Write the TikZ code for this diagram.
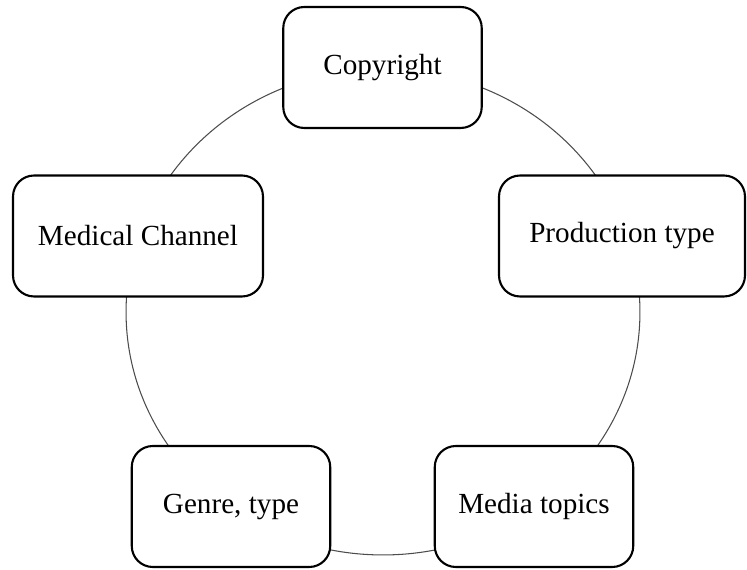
\documentclass[tikz,border=0pt]{standalone}
\usepackage{fontspec}
\setmainfont{Liberation Serif}
\usepackage{tikz}
\usetikzlibrary{positioning}

\begin{document}
\begin{tikzpicture}[x=0.02cm, y=-0.02cm,
    topic/.style={draw, line width=1.2pt, rounded corners=0.42cm, fill=white,
                  minimum height=2.42cm, minimum width=3.97cm, align=center,
                  font=\fontsize{16.6}{20}\selectfont},
    ring/.style={draw=black!70, line width=0.6pt}]
    \useasboundingbox (0,0) rectangle (747,570);
    \coordinate (hub) at (383,312);
    \draw[ring] (hub) ellipse [x radius=5.14cm, y radius=4.86cm];
    \node[topic] (copy) at (382.5,67.5) {Copyright};
    \node[topic, minimum width=5cm] (chan) at (138,236) {Medical Channel};
    \node[topic, minimum width=4.92cm] (prod) at (622,236) {Production type};
    \node[topic] (genre) at (231,506.5) {Genre, type};
    \node[topic] (topics) at (534,506.5) {Media topics};
\end{tikzpicture}
\end{document}
